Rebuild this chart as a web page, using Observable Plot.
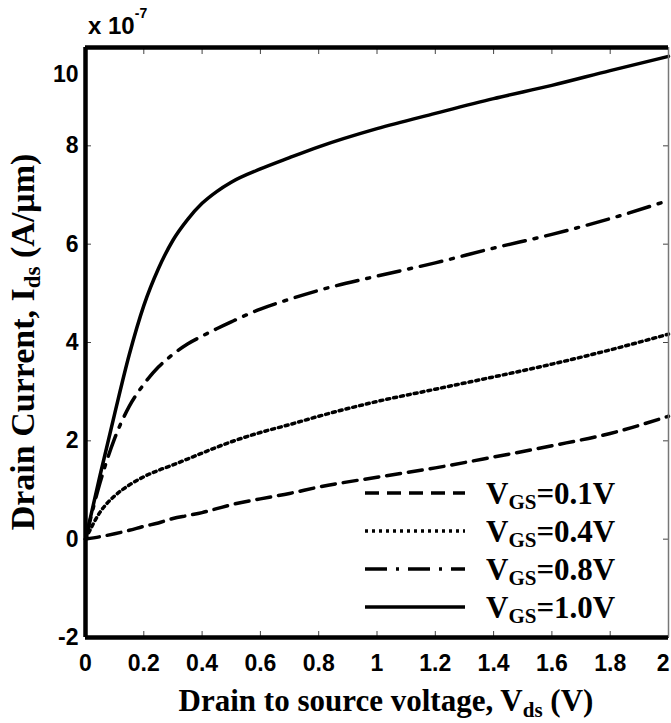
<!DOCTYPE html>
<html><head><meta charset="utf-8">
<script src="https://cdn.jsdelivr.net/npm/d3@7"></script>
<script src="https://cdn.jsdelivr.net/npm/@observablehq/plot@0.6"></script>
<style>
body{margin:0;background:#fff;}
#chart{position:relative;width:671px;height:723px;overflow:hidden;}
</style>
</head><body><div id="chart"></div>
<script>
// Drain-source voltage (V)
const vds = [0, 0.05, 0.1, 0.15, 0.2, 0.25, 0.3, 0.35, 0.4, 0.45, 0.5, 0.6, 0.7, 0.8, 1.0, 1.2, 1.4, 1.6, 1.8, 2.0];
// Drain current (x 1e-7 A/um) per gate voltage
const idsVgs01 = [0, 0.05, 0.11, 0.18, 0.26, 0.33, 0.42, 0.48, 0.54, 0.62, 0.70, 0.82, 0.93, 1.06, 1.26, 1.45, 1.67, 1.90, 2.15, 2.50];
const idsVgs04 = [0, 0.55, 0.88, 1.10, 1.27, 1.40, 1.51, 1.63, 1.75, 1.87, 1.98, 2.17, 2.33, 2.50, 2.80, 3.05, 3.30, 3.56, 3.85, 4.17];
const idsVgs08 = [0, 1.15, 2.05, 2.70, 3.15, 3.50, 3.76, 3.97, 4.13, 4.28, 4.42, 4.68, 4.88, 5.06, 5.35, 5.62, 5.92, 6.20, 6.52, 6.89];
const idsVgs10 = [0, 1.30, 2.55, 3.75, 4.75, 5.50, 6.08, 6.50, 6.83, 7.07, 7.26, 7.53, 7.76, 7.98, 8.35, 8.66, 8.96, 9.23, 9.53, 9.82];
const vgsLabels = ["0.1V", "0.4V", "0.8V", "1.0V"];

const xTicks = [0, 0.2, 0.4, 0.6, 0.8, 1, 1.2, 1.4, 1.6, 1.8, 2];
const xTickLabels = ["0", "0.2", "0.4", "0.6", "0.8", "1", "1.2", "1.4", "1.6", "1.8", "2"];
const yTicks = [-2, 0, 2, 4, 6, 8, 10];
const yTickLabels = ["-2", "0", "2", "4", "6", "8", "10"];

const dashes = [ "14,8", "3,4", "22,9,3,9", null ];
const seriesValues = [idsVgs01, idsVgs04, idsVgs08, idsVgs10];
const series = vgsLabels.map((v, k) => ({
  label: v,
  dash: dashes[k],
  rows: vds.map((x, i) => ({x, y: seriesValues[k][i]}))
}));

const xLab = d => xTickLabels[xTicks.indexOf(d)];
const yLab = d => yTickLabels[yTicks.indexOf(d)];

const svg = Plot.plot({
  width: 671,
  height: 723,
  marginLeft: 85,
  marginRight: 3,
  marginTop: 47,
  marginBottom: 86,
  style: {fontFamily: "'Liberation Sans', Arial, sans-serif", fontWeight: "bold", background: "#fff", color: "#000", overflow: "visible"},
  x: {domain: [0, 2]},
  y: {domain: [-2, 10]},
  marks: [
    Plot.axisX({anchor: "bottom", ticks: xTicks, tickSize: 0, tickPadding: 17, tickFormat: xLab, label: null, fontSize: 23}),
    Plot.axisX({anchor: "bottom", ticks: xTicks, tickSize: -6, tickFormat: () => "", label: null, stroke: "#444"}),
    Plot.axisX({anchor: "top", ticks: xTicks, tickSize: -6, tickFormat: () => "", label: null, stroke: "#444"}),
    Plot.axisY({anchor: "left", ticks: yTicks, tickSize: 0, tickPadding: 7, tickFormat: yLab, label: null, fontSize: 23}),
    Plot.axisY({anchor: "left", ticks: yTicks, tickSize: -6, tickFormat: () => "", label: null, stroke: "#444"}),
    Plot.axisY({anchor: "right", ticks: yTicks, tickSize: -6, tickFormat: () => "", label: null, stroke: "#444"}),
    ...series.map(s => Plot.line(s.rows, {x: "x", y: "y", stroke: "#000", strokeWidth: 3.5, strokeDasharray: s.dash, curve: "monotone-x"})),
    Plot.ruleX([2], {stroke: "#777", strokeWidth: 1.5}),
    Plot.ruleY([10], {stroke: "#000", strokeWidth: 4.5}),
    Plot.ruleY([-2], {stroke: "#000", strokeWidth: 4.5}),
    Plot.ruleX([0], {stroke: "#000", strokeWidth: 4.5})
  ]
});

const root = d3.select(svg);
const serif = "'Liberation Serif', 'Times New Roman', serif";

// tick label font
root.selectAll("g[aria-label$='tick label']").attr("font-size", 23).attr("font-weight", "bold");
root.selectAll("g[aria-label$='tick label'] text").attr("font-size", 23);
// the top tick label sits a little below the frame corner
root.selectAll("g[aria-label='y-axis tick label'] text")
  .filter(function() { return this.textContent === "10"; })
  .attr("dy", "1.2em");
// keep the last x label inside the picture
root.selectAll("g[aria-label='x-axis tick label'] text")
  .filter(function() { return this.textContent === "2"; })
  .attr("text-anchor", "end").attr("dx", 1);

// multiplier
const mult = root.append("text").attr("x", 88).attr("y", 34).attr("text-anchor", "start")
  .attr("font-family", "'Liberation Sans', Arial, sans-serif").attr("font-size", 24).attr("font-weight", "bold").attr("fill", "#000");
mult.append("tspan").text("x 10");
mult.append("tspan").attr("dy", -16).attr("font-size", 14).text("-7");

// x title
const xt = root.append("text").attr("x", 386).attr("y", 711).attr("text-anchor", "middle")
  .attr("font-family", serif).attr("font-size", 31).attr("font-weight", "bold").attr("fill", "#000");
xt.append("tspan").text("Drain to source voltage, V");
xt.append("tspan").attr("dy", 6).attr("font-size", 21).text("ds");
xt.append("tspan").attr("dy", -6).text(" (V)");

// y title
const yt = root.append("text").attr("transform", "translate(34,342) rotate(-90)").attr("text-anchor", "middle")
  .attr("font-family", serif).attr("font-size", 34).attr("font-weight", "bold").attr("fill", "#000");
yt.append("tspan").text("Drain Current, I");
yt.append("tspan").attr("dy", 6).attr("font-size", 23).text("ds");
yt.append("tspan").attr("dy", -6).text(" (A/\u03bcm)");

// legend
const lg = root.append("g");
series.forEach((s, i) => {
  const y = 493 + i * 38;
  lg.append("line").attr("x1", 365).attr("x2", 465).attr("y1", y).attr("y2", y)
    .attr("stroke", "#000").attr("stroke-width", 3.5).attr("stroke-dasharray", s.dash);
  const t = lg.append("text").attr("x", 486).attr("y", y + 11).attr("text-anchor", "start")
    .attr("font-family", serif).attr("font-size", 31).attr("font-weight", "bold").attr("fill", "#000");
  t.append("tspan").text("V");
  t.append("tspan").attr("dy", 5).attr("font-size", 21).text("GS");
  t.append("tspan").attr("dy", -5).text("=" + s.label);
});

document.getElementById("chart").appendChild(svg);
</script>
</body></html>
